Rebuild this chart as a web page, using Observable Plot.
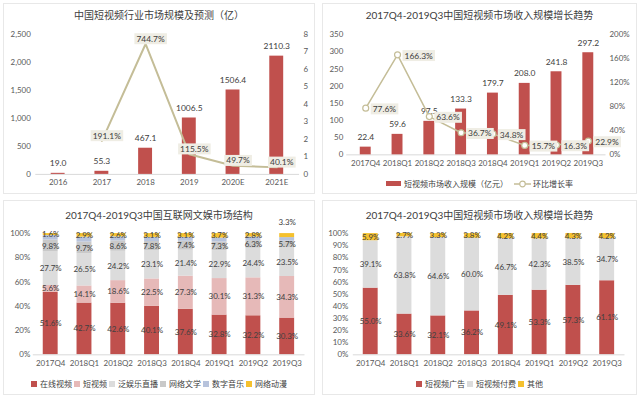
<!DOCTYPE html>
<html><head><meta charset="utf-8">
<script src="https://cdn.jsdelivr.net/npm/d3@7"></script>
<script src="https://cdn.jsdelivr.net/npm/@observablehq/plot@0.6"></script>
<style>
body{margin:0;background:#fff;font-family:Lato,"Noto Sans CJK SC",sans-serif;}
#root{position:relative;width:640px;height:398px;overflow:hidden;background:#fff}
.panel{position:absolute;border:1px solid #e8e8e8;background:#fff;box-sizing:border-box}
.panel > svg{position:absolute;left:0;top:0}
.title{position:absolute;left:0;right:0;text-align:center;font-size:10px;color:#404040;line-height:12px;z-index:2}
.legend{position:absolute;left:0;right:0;display:flex;justify-content:center;align-items:center;font-size:8px;color:#404040;white-space:nowrap;line-height:10px;z-index:2}
.legend .it{display:flex;align-items:center;margin:0 1px}
.legend .sw{display:inline-block;width:6px;height:6px;margin-right:3px}
</style>
</head><body><div id="root"></div>
<script>
// ---- data ----
const years = ["2016","2017","2018","2019","2020E","2021E"];
const marketSize = [19.0, 55.3, 467.1, 1006.5, 1506.4, 2110.3];
const marketGrowth = [null, 191.1, 744.7, 115.5, 49.7, 40.1];

const quarters = ["2017Q4","2018Q1","2018Q2","2018Q3","2018Q4","2019Q1","2019Q2","2019Q3"];
const revenue = [22.4, 59.6, 97.5, 133.3, 179.7, 208.0, 241.8, 297.2];
const qoqGrowth = [77.6, 166.3, 63.6, 36.7, 34.8, 15.7, 16.3, 22.9];

const entSeries = ["在线视频","短视频","泛娱乐直播","网络文学","数字音乐","网络动漫"];
const onlineVideo = [51.6, 42.7, 42.6, 40.1, 37.6, 32.8, 32.2, 30.3];
const shortVideo  = [5.6, 14.1, 18.6, 22.5, 27.3, 30.1, 31.3, 34.3];
const liveStream  = [27.7, 26.5, 24.2, 23.1, 21.4, 22.9, 24.4, 23.5];
const literature  = [9.8, 9.7, 8.6, 7.8, 7.4, 7.3, 6.3, 5.7];
const music       = [3.7, 4.1, 3.4, 3.4, 3.2, 3.2, 3.0, 2.9];
const anime       = [1.6, 2.9, 2.6, 3.1, 3.1, 3.7, 2.8, 3.3];
const entLabeled  = [true, true, true, true, false, true];

const revSeries = ["短视频广告","短视频付费","其他"];
const adShare    = [55.0, 33.6, 32.1, 36.2, 49.1, 53.3, 57.3, 61.1];
const paidShare  = [39.1, 63.8, 64.6, 60.0, 46.7, 42.3, 38.5, 34.7];
const otherShare = [5.9, 2.7, 3.3, 3.8, 4.2, 4.4, 4.3, 4.2];

// ---- styles ----
const RED = "#c0504d", TAN = "#c4bd97", BOX = "#efede4", TXT = "#404040";
const entColors = [RED, "#e6b9b8", "#dcdcdc", "#c9c9c9", "#b7c3dc", "#f5c12e"];
const revColors = [RED, "#dcdcdc", "#f5c12e"];
const FONT = "Lato, 'Noto Sans CJK SC', sans-serif";
const baseStyle = {fontFamily: FONT, fontSize: "8px", color: "#595959", background: "transparent", overflow: "visible"};
const xAxisOpts = {tickSize: 0, tickPadding: 6, label: null, style: {letterSpacing: "-0.4px"}};

const root = document.getElementById("root");
function panel(left, top, w, h, title, titleTop) {
  const d = document.createElement("div");
  d.className = "panel";
  Object.assign(d.style, {left: left + "px", top: top + "px", width: w + "px", height: h + "px"});
  const t = document.createElement("div");
  t.className = "title"; t.textContent = title; t.style.top = (titleTop - 6) + "px";
  d.appendChild(t);
  root.appendChild(d);
  return d;
}
function boxify(svg) {
  svg.querySelectorAll('g[aria-description="boxlbl"] text').forEach(t => {
    const b = t.getBBox();
    const r = document.createElementNS("http://www.w3.org/2000/svg", "rect");
    r.setAttribute("x", b.x - 2); r.setAttribute("y", b.y - 0.5);
    r.setAttribute("width", b.width + 4); r.setAttribute("height", b.height + 1);
    r.setAttribute("fill", BOX);
    if (t.getAttribute("transform")) r.setAttribute("transform", t.getAttribute("transform"));
    t.parentNode.insertBefore(r, t);
  });
}
function legend(container, top, items) {
  const L = document.createElement("div");
  L.className = "legend"; L.style.top = (top - 5) + "px";
  items.forEach(it => {
    const s = document.createElement("span"); s.className = "it";
    s.innerHTML = it.html + `<span>${it.label}</span>`;
    L.appendChild(s);
  });
  container.appendChild(L);
}

// ---- Panel 1 ----
const d1 = years.map((y, i) => ({year: y, size: marketSize[i], growth: marketGrowth[i]}));
const g1 = d1.filter(d => d.growth != null);
const k1 = 2500 / 8;
const P1 = panel(3, 3, 312, 191, "中国短视频行业市场规模及预测（亿）", 11);
const s1 = Plot.plot({
  width: 312, height: 191, marginLeft: 31.5, marginRight: 15, marginTop: 30, marginBottom: 20,
  style: baseStyle,
  x: {domain: years, paddingInner: 0.69, paddingOuter: 0.345, label: null},
  y: {domain: [0, 2500], label: null},
  marks: [
    Plot.axisX({...xAxisOpts, tickPadding: 5}),
    Plot.axisY({ticks: d3.range(0, 2501, 500), tickFormat: d3.format(","), tickSize: 0, tickPadding: 5, label: null}),
    Plot.axisY({anchor: "right", ticks: d3.range(0, 9).map(v => v * k1), tickFormat: d => Math.round(d / k1), tickSize: 0, tickPadding: 4, label: null}),
    Plot.ruleY([0], {stroke: "#d9d9d9"}),
    Plot.barY(d1, {x: "year", y: "size", fill: RED}),
    Plot.text(d1, {x: "year", y: "size", text: d => d.size.toFixed(1), dy: -10, fill: TXT, fontSize: 8.5}),
    Plot.line(g1, {x: "year", y: d => d.growth / 100 * k1, stroke: TAN, strokeWidth: 2}),
    Plot.text(g1, {x: "year", y: d => d.growth / 100 * k1, text: d => d.growth.toFixed(1) + "%", dx: 5, dy: -5, fill: TXT, fontSize: 8.5, ariaDescription: "boxlbl"})
  ]
});
P1.appendChild(s1); boxify(s1);

// ---- Panel 2 ----
const d2 = quarters.map((q, i) => ({q, rev: revenue[i], g: qoqGrowth[i]}));
const k2 = 350 / 200;
const P2 = panel(322, 3, 315, 191, "2017Q4-2019Q3中国短视频市场收入规模增长趋势", 11);
const s2 = Plot.plot({
  width: 315, height: 191, marginLeft: 23.4, marginRight: 30.7, marginTop: 30.3, marginBottom: 39.7,
  style: baseStyle,
  x: {domain: quarters, paddingInner: 0.67, paddingOuter: 0.335, label: null},
  y: {domain: [0, 350], label: null},
  marks: [
    Plot.axisX(xAxisOpts),
    Plot.axisY({ticks: d3.range(0, 351, 50), tickSize: 0, tickPadding: 3.5, label: null}),
    Plot.axisY({anchor: "right", ticks: d3.range(0, 201, 40).map(v => v * k2), tickFormat: d => Math.round(d / k2) + "%", tickSize: 0, tickPadding: 3.5, label: null}),
    Plot.ruleY([0], {stroke: "#d9d9d9"}),
    Plot.barY(d2, {x: "q", y: "rev", fill: RED}),
    Plot.text(d2, {x: "q", y: "rev", text: d => d.rev.toFixed(1), dy: -10, fill: TXT, fontSize: 8.5}),
    Plot.line(d2, {x: "q", y: d => d.g * k2, stroke: TAN, strokeWidth: 1.5}),
    Plot.dot(d2, {x: "q", y: d => d.g * k2, r: 3, fill: "#fff", stroke: TAN, strokeWidth: 1.2}),
    Plot.text(d2, {x: "q", y: d => d.g * k2, text: d => d.g.toFixed(1) + "%", textAnchor: "start", dx: 7, dy: 1, fill: TXT, fontSize: 8.5, ariaDescription: "boxlbl"})
  ]
});
P2.appendChild(s2); boxify(s2);
legend(P2, 179.7, [
  {html: `<span class="sw" style="width:15px;height:5px;background:${RED}"></span>`, label: "短视频市场收入规模（亿元）"},
  {html: `<svg width="17" height="8" style="margin-right:2px;margin-left:4px"><line x1="0" y1="4" x2="17" y2="4" stroke="${TAN}" stroke-width="1.5"/><circle cx="8.5" cy="4" r="2.8" fill="#fff" stroke="${TAN}" stroke-width="1.2"/></svg>`, label: "环比增长率"}
]);

// ---- Panel 3 ----
const entValues = [onlineVideo, shortVideo, liveStream, literature, music, anime];
const d3data = [];
entSeries.forEach((s, si) => quarters.forEach((q, qi) => d3data.push({q, s, v: entValues[si][qi], lab: entLabeled[si]})));
const isAbove = d => d.s === "网络动漫" && d.q === "2019Q3";
const P3 = panel(3, 200, 312, 195, "2017Q4-2019Q3中国互联网文娱市场结构", 14);
const s3 = Plot.plot({
  width: 312, height: 195, marginLeft: 29, marginRight: 9.6, marginTop: 32.3, marginBottom: 40.7,
  style: baseStyle,
  x: {domain: quarters, paddingInner: 0.56, paddingOuter: 0.28, label: null},
  y: {domain: [0, 100], label: null},
  color: {domain: entSeries, range: entColors},
  marks: [
    Plot.axisX(xAxisOpts),
    Plot.axisY({ticks: d3.range(0, 101, 20), tickFormat: d => d + "%", tickSize: 0, tickPadding: 3, label: null}),
    Plot.barY(d3data, {x: "q", y: "v", fill: "s", order: entSeries}),
    Plot.ruleY([0], {stroke: "#d9d9d9"}),
    Plot.text(d3data, Plot.stackY({x: "q", y: "v", z: "s", order: entSeries, text: d => (d.lab && !isAbove(d)) ? d.v.toFixed(1) + "%" : "", fill: TXT, fontSize: 8})),
    Plot.text(d3data, Plot.stackY({x: "q", y: "v", z: "s", order: entSeries, text: d => isAbove(d) ? d.v.toFixed(1) + "%" : "", fill: TXT, fontSize: 8, dy: -13}))
  ]
});
P3.appendChild(s3);
legend(P3, 182.7, entSeries.map((s, i) => ({html: `<span class="sw" style="background:${entColors[i]}"></span>`, label: s})));

// ---- Panel 4 ----
const revValues = [adShare, paidShare, otherShare];
const d4 = [];
revSeries.forEach((s, si) => quarters.forEach((q, qi) => d4.push({q, s, v: revValues[si][qi]})));
const P4 = panel(322, 200, 315, 195, "2017Q4-2019Q3中国短视频市场收入规模增长趋势", 14);
const s4 = Plot.plot({
  width: 315, height: 195, marginLeft: 30, marginRight: 11.6, marginTop: 32.3, marginBottom: 40.7,
  style: baseStyle,
  x: {domain: quarters, paddingInner: 0.56, paddingOuter: 0.28, label: null},
  y: {domain: [0, 100], label: null},
  color: {domain: revSeries, range: revColors},
  marks: [
    Plot.axisX(xAxisOpts),
    Plot.axisY({ticks: d3.range(0, 101, 10), tickFormat: d => d + "%", tickSize: 0, tickPadding: 5, label: null}),
    Plot.barY(d4, {x: "q", y: "v", fill: "s", order: revSeries}),
    Plot.ruleY([0], {stroke: "#d9d9d9"}),
    Plot.text(d4, Plot.stackY({x: "q", y: "v", z: "s", order: revSeries, text: d => d.v.toFixed(1) + "%", fill: TXT, fontSize: 8}))
  ]
});
P4.appendChild(s4);
legend(P4, 182.7, revSeries.map((s, i) => ({html: `<span class="sw" style="background:${revColors[i]}"></span>`, label: s})));
</script>
</body></html>
